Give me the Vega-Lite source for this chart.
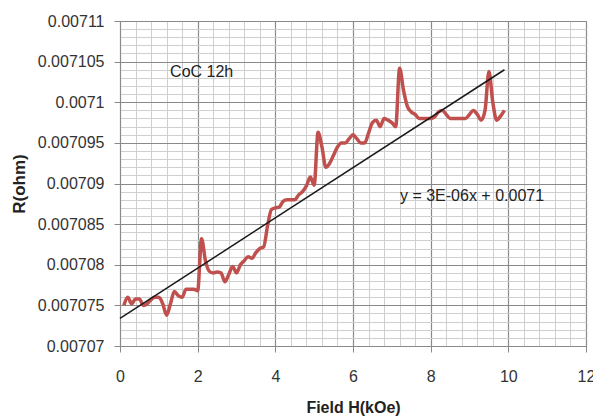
{
  "$schema": "https://vega.github.io/schema/vega-lite/v6.json",
  "width": 466,
  "height": 325,
  "autosize": {"type": "none"},
  "padding": {"left": 120, "top": 21, "right": 7, "bottom": 72},
  "background": "white",
  "config": {
    "view": {"stroke": "#8a8a8a", "strokeWidth": 1},
    "font": "Liberation Sans"
  },
  "datasets": {
    "measured": [
      {"field": 0.1, "R": 0.007075}, {"field": 0.2, "R": 0.007076}, {"field": 0.3, "R": 0.0070752},
      {"field": 0.4, "R": 0.0070758}, {"field": 0.5, "R": 0.0070758}, {"field": 0.6, "R": 0.007075},
      {"field": 0.7, "R": 0.0070752}, {"field": 0.8, "R": 0.0070757}, {"field": 0.9, "R": 0.007076},
      {"field": 1.0, "R": 0.007076}, {"field": 1.1, "R": 0.0070752}, {"field": 1.2, "R": 0.0070738},
      {"field": 1.3, "R": 0.0070752}, {"field": 1.4, "R": 0.0070767}, {"field": 1.5, "R": 0.0070762},
      {"field": 1.6, "R": 0.007076}, {"field": 1.7, "R": 0.007077}, {"field": 1.8, "R": 0.007077},
      {"field": 1.9, "R": 0.007077}, {"field": 2.0, "R": 0.0070768}, {"field": 2.1, "R": 0.0070832},
      {"field": 2.2, "R": 0.0070805}, {"field": 2.3, "R": 0.0070792}, {"field": 2.4, "R": 0.007079},
      {"field": 2.5, "R": 0.0070791}, {"field": 2.6, "R": 0.007079}, {"field": 2.7, "R": 0.0070779},
      {"field": 2.8, "R": 0.0070788}, {"field": 2.9, "R": 0.0070798}, {"field": 3.0, "R": 0.007079},
      {"field": 3.1, "R": 0.00708}, {"field": 3.2, "R": 0.0070805}, {"field": 3.3, "R": 0.007081},
      {"field": 3.4, "R": 0.0070808}, {"field": 3.5, "R": 0.0070815}, {"field": 3.6, "R": 0.007082},
      {"field": 3.7, "R": 0.0070822}, {"field": 3.8, "R": 0.0070848}, {"field": 3.9, "R": 0.0070868},
      {"field": 4.0, "R": 0.007087}, {"field": 4.1, "R": 0.0070871}, {"field": 4.2, "R": 0.0070878},
      {"field": 4.3, "R": 0.007088}, {"field": 4.4, "R": 0.007088}, {"field": 4.5, "R": 0.007088},
      {"field": 4.6, "R": 0.0070886}, {"field": 4.7, "R": 0.007089}, {"field": 4.8, "R": 0.0070897},
      {"field": 4.9, "R": 0.0070908}, {"field": 5.0, "R": 0.0070898}, {"field": 5.1, "R": 0.0070963},
      {"field": 5.2, "R": 0.0070945}, {"field": 5.3, "R": 0.007092}, {"field": 5.4, "R": 0.0070925},
      {"field": 5.5, "R": 0.0070935}, {"field": 5.6, "R": 0.0070945}, {"field": 5.7, "R": 0.007095},
      {"field": 5.8, "R": 0.007095}, {"field": 5.9, "R": 0.0070955}, {"field": 6.0, "R": 0.007096},
      {"field": 6.1, "R": 0.0070955}, {"field": 6.2, "R": 0.007095}, {"field": 6.3, "R": 0.007095},
      {"field": 6.4, "R": 0.0070962}, {"field": 6.5, "R": 0.0070975}, {"field": 6.6, "R": 0.0070978},
      {"field": 6.7, "R": 0.007097}, {"field": 6.8, "R": 0.007098}, {"field": 6.9, "R": 0.0070978},
      {"field": 7.0, "R": 0.0070975}, {"field": 7.1, "R": 0.007097}, {"field": 7.2, "R": 0.0071042},
      {"field": 7.3, "R": 0.0071015}, {"field": 7.4, "R": 0.0070995}, {"field": 7.5, "R": 0.0070988},
      {"field": 7.6, "R": 0.0070985}, {"field": 7.7, "R": 0.007098}, {"field": 7.8, "R": 0.007098},
      {"field": 7.9, "R": 0.007098}, {"field": 8.0, "R": 0.007098}, {"field": 8.1, "R": 0.0070982},
      {"field": 8.2, "R": 0.0070988}, {"field": 8.3, "R": 0.007099}, {"field": 8.4, "R": 0.0070985},
      {"field": 8.5, "R": 0.007098}, {"field": 8.6, "R": 0.007098}, {"field": 8.7, "R": 0.007098},
      {"field": 8.8, "R": 0.007098}, {"field": 8.9, "R": 0.007098}, {"field": 9.0, "R": 0.0070985},
      {"field": 9.1, "R": 0.007099}, {"field": 9.2, "R": 0.0070985}, {"field": 9.3, "R": 0.0070978},
      {"field": 9.4, "R": 0.007099}, {"field": 9.5, "R": 0.0071038}, {"field": 9.6, "R": 0.0071},
      {"field": 9.7, "R": 0.0070978}, {"field": 9.8, "R": 0.0070983}, {"field": 9.9, "R": 0.007099}
    ],
    "trend": [
      {"field": 0.0, "R": 0.0070734},
      {"field": 9.9, "R": 0.007104}
    ],
    "notes": [
      {"field": 1.29, "R": 0.0071037, "label": "CoC 12h"},
      {"field": 7.21, "R": 0.0070885, "label": "y = 3E-06x + 0.0071"}
    ]
  },
  "encoding": {
    "x": {
      "field": "field",
      "type": "quantitative",
      "scale": {"domain": [0, 12], "nice": false, "zero": false},
      "axis": {
        "title": "Field H(kOe)",
        "titleFont": "Liberation Sans",
        "titleFontSize": 16,
        "titleFontWeight": "bold",
        "titleColor": "#222222",
        "titlePadding": 15,
        "values": [0, 0.4, 0.8, 1.2, 1.6, 2, 2.4, 2.8, 3.2, 3.6, 4, 4.4, 4.8, 5.2, 5.6, 6, 6.4, 6.8, 7.2, 7.6, 8, 8.4, 8.8, 9.2, 9.6, 10, 10.4, 10.8, 11.2, 11.6, 12],
        "labelExpr": "abs(datum.value/2 - round(datum.value/2)) < 0.01 ? format(datum.value, 'd') : ''",
        "labelFontSize": 16,
        "labelColor": "#333333",
        "labelPadding": 16,
        "labelOverlap": false,
        "labelFlush": false,
        "tickSize": 6,
        "tickColor": "#8a8a8a",
        "tickOpacity": {"condition": {"test": "abs(datum.value/2 - round(datum.value/2)) < 0.01", "value": 1}, "value": 0},
        "domainColor": "#8a8a8a",
        "grid": true,
        "gridColor": {"condition": {"test": "abs(datum.value/2 - round(datum.value/2)) < 0.01", "value": "#8a8a8a"}, "value": "#cfcfcf"},
        "gridWidth": {"condition": {"test": "abs(datum.value/2 - round(datum.value/2)) < 0.01", "value": 1.2}, "value": 1}
      }
    },
    "y": {
      "field": "R",
      "type": "quantitative",
      "scale": {"domain": [0.00707, 0.00711], "nice": false, "zero": false},
      "axis": {
        "title": "R(ohm)",
        "titleFont": "Liberation Sans",
        "titleFontSize": 17,
        "titleFontWeight": "bold",
        "titleColor": "#222222",
        "titlePadding": 9,
        "values": [0.00707, 0.007071, 0.007072, 0.007073, 0.007074, 0.007075, 0.007076, 0.007077, 0.007078, 0.007079, 0.00708, 0.007081, 0.007082, 0.007083, 0.007084, 0.007085, 0.007086, 0.007087, 0.007088, 0.007089, 0.00709, 0.007091, 0.007092, 0.007093, 0.007094, 0.007095, 0.007096, 0.007097, 0.007098, 0.007099, 0.0071, 0.007101, 0.007102, 0.007103, 0.007104, 0.007105, 0.007106, 0.007107, 0.007108, 0.007109, 0.00711],
        "format": "~g",
        "labelExpr": "abs(datum.value*200000 - round(datum.value*200000)) < 0.01 ? datum.label : ''",
        "labelFontSize": 16,
        "labelColor": "#333333",
        "labelPadding": 10,
        "labelOverlap": false,
        "labelFlush": false,
        "tickSize": 6,
        "tickColor": "#8a8a8a",
        "tickOpacity": {"condition": {"test": "abs(datum.value*200000 - round(datum.value*200000)) < 0.01", "value": 1}, "value": 0},
        "domainColor": "#8a8a8a",
        "grid": true,
        "gridColor": {"condition": {"test": "abs(datum.value*200000 - round(datum.value*200000)) < 0.01", "value": "#8a8a8a"}, "value": "#cfcfcf"},
        "gridWidth": {"condition": {"test": "abs(datum.value*200000 - round(datum.value*200000)) < 0.01", "value": 1.2}, "value": 1}
      }
    }
  },
  "layer": [
    {
      "data": {"name": "measured"},
      "mark": {"type": "line", "color": "#c0504d", "strokeWidth": 3.5, "interpolate": "monotone"}
    },
    {
      "data": {"name": "trend"},
      "mark": {"type": "line", "color": "#1a1a1a", "strokeWidth": 1.5}
    },
    {
      "data": {"name": "notes"},
      "mark": {"type": "text", "align": "left", "baseline": "middle", "fontSize": 16, "font": "Liberation Sans", "color": "#222222"},
      "encoding": {"text": {"field": "label", "type": "nominal"}}
    }
  ]
}
